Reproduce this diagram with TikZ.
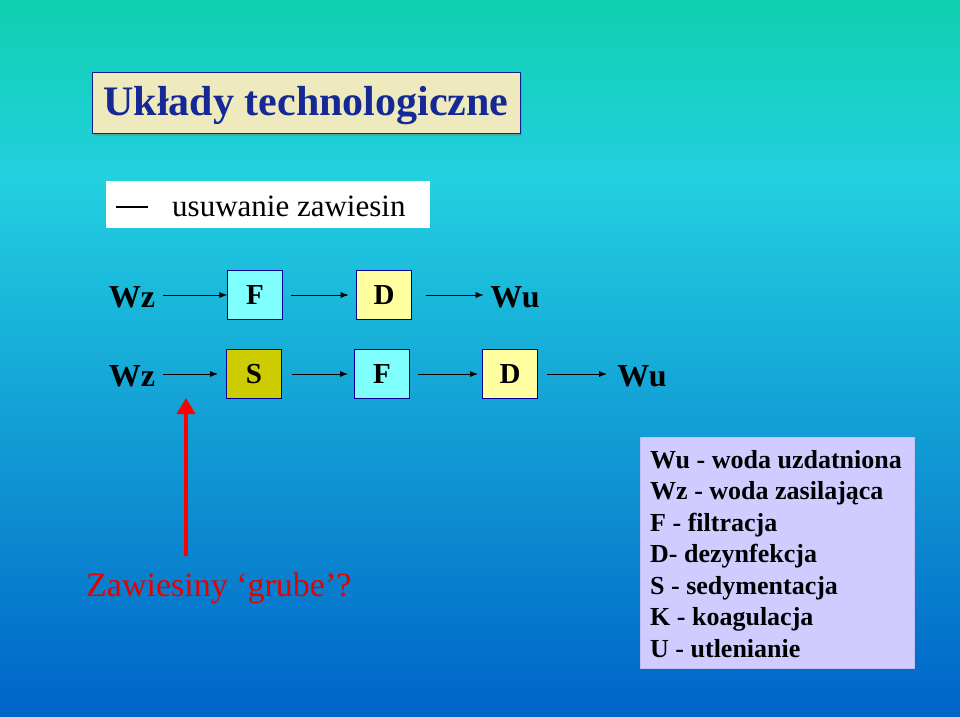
\documentclass[tikz,border=0pt]{standalone}
\usepackage{fontspec}
\setmainfont{Liberation Serif}
\usetikzlibrary{arrows.meta,shadows}
\begin{document}
\begin{tikzpicture}[x=1pt,y=-1pt,
  blk/.style={draw=blue!60!black,minimum width=55pt,minimum height=49pt,inner sep=0pt,font=\fontsize{29}{32}\selectfont\bfseries},
  lbl/.style={font=\fontsize{32}{36}\selectfont\bfseries,inner sep=0pt},
  arr/.style={-{Latex[length=8pt,width=6pt]},line width=0.8pt},
  leg/.style={font=\fontsize{26}{31.5}\selectfont\bfseries,anchor=north west,align=left,inner sep=0pt}]
\useasboundingbox (0,0) rectangle (960,716);
\shade[top color={rgb,255:red,16;green,208;blue,176}, bottom color={rgb,255:red,34;green,208;blue,224}] (0,0) rectangle (960,180);
\shade[top color={rgb,255:red,34;green,208;blue,224}, bottom color={rgb,255:red,0;green,100;blue,200}] (0,179.5) rectangle (960,716);
\node[draw={rgb,255:red,20;green,30;blue,140},fill={rgb,255:red,238;green,234;blue,190},drop shadow,minimum width=428pt,minimum height=61pt] (title) at (306,103) {};
\node[text={rgb,255:red,20;green,40;blue,150},font=\fontsize{42}{46}\selectfont\bfseries] (titlet) at (306,106) {Układy technologiczne};
\node[fill=white,minimum width=324pt,minimum height=47pt] (sub) at (268,204) {};
\draw[line width=1.5pt] (116,207) coordinate (l1) -- (148,207) coordinate (l2);
\node[anchor=west,font=\fontsize{31}{34}\selectfont,inner sep=0pt] (subt) at (172,206) {usuwanie zawiesin};
% row 1
\node[lbl] (wz1) at (132,297) {Wz};
\node[blk,fill={rgb,255:red,128;green,255;blue,255}] (f1) at (255,295) {F};
\node[blk,fill={rgb,255:red,255;green,255;blue,160}] (d1) at (384,295) {D};
\node[lbl] (wu1) at (515,297) {Wu};
\draw[arr] (163,295) -- (f1.west);
\draw[arr] (f1.east)++(8,0) -- ++(58,0);
\draw[arr] (d1.east)++(14,0) -- ++(58,0);
% row 2
\node[lbl] (wz2) at (132,376) {Wz};
\node[blk,fill={rgb,255:red,204;green,204;blue,0}] (s2) at (254,374) {S};
\node[blk,fill={rgb,255:red,128;green,255;blue,255}] (f2) at (382,374) {F};
\node[blk,fill={rgb,255:red,255;green,255;blue,160}] (d2) at (510,374) {D};
\node[lbl] (wu2) at (642,376) {Wu};
\draw[arr] (163,374) -- (218,374);
\draw[arr] (292,374) -- (348,374);
\draw[arr] (418,374) -- (478,374);
\draw[arr] (547,374) -- (607,374);
% red arrow
\coordinate (rb) at (186,556);
\coordinate (rt) at (186,398);
\draw[red,line width=4pt,-{Triangle[length=16pt,width=18pt]}] (rb) -- (rt);
\node[anchor=west,text={rgb,255:red,230;green,0;blue,0},font=\fontsize{34}{38}\selectfont,inner sep=0pt] (zaw) at (86,588) {Zawiesiny ‘grube’?};
% legend
\node[fill={rgb,255:red,208;green,204;blue,255},draw={rgb,255:red,190;green,190;blue,240},minimum width=274pt,minimum height=231pt] (legbox) at (777,552.5) {};
\node[leg] (legt) at (650,450) {Wu - woda uzdatniona\\Wz - woda zasilająca\\F - filtracja\\D- dezynfekcja\\S - sedymentacja\\K - koagulacja\\U - utlenianie};
\end{tikzpicture}
\end{document}
